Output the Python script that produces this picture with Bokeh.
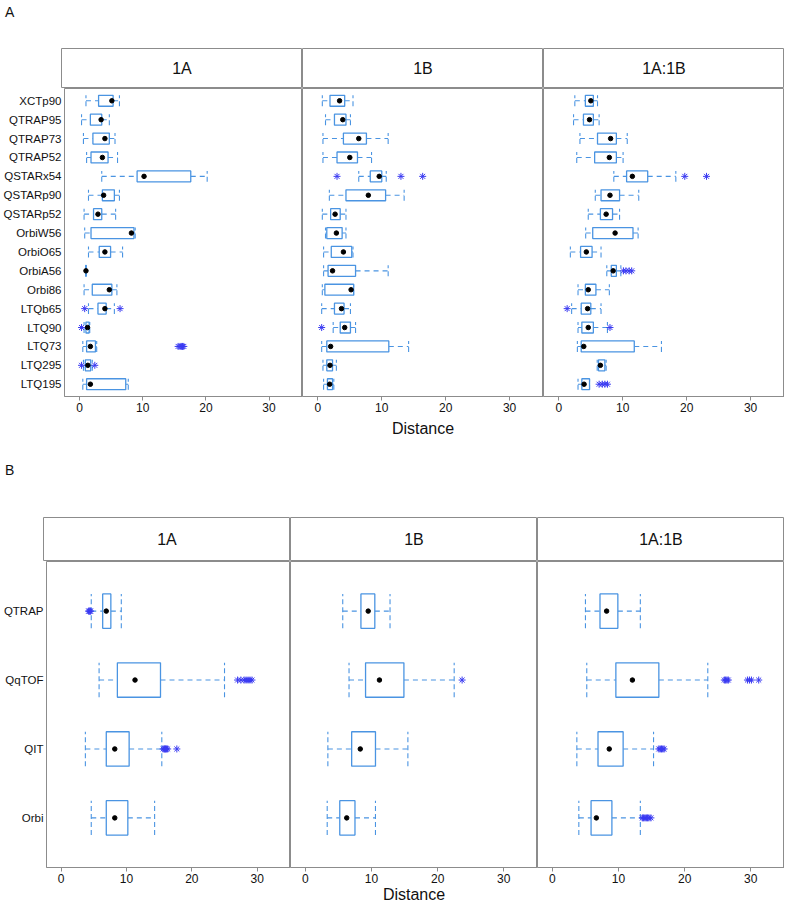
from bokeh.plotting import figure
from bokeh.models import ColumnDataSource, FactorRange, Range1d, FixedTicker, Div
from bokeh.layouts import column, row
from bokeh.transform import dodge
from bokeh.core.properties import value
from bokeh.embed import file_html
from bokeh.resources import INLINE

# ---------------- data ----------------
FACETS = ["1A", "1B", "1A:1B"]
X_TICKS = [0, 10, 20, 30]

A_CATS = ["XCTp90", "QTRAP95", "QTRAP73", "QTRAP52", "QSTARx54", "QSTARp90",
          "QSTARp52", "OrbiW56", "OrbiO65", "OrbiA56", "Orbi86", "LTQb65",
          "LTQ90", "LTQ73", "LTQ295", "LTQ195"]

# facet 1A
A1_LOW = [1.0, 0.3, 0.6, 1.1, 3.5, 1.4, 0.7, 0.8, 1.4, 0.95, 0.7, 1.4, 0.7, 0.5, 0.6, 0.5]
A1_Q1 = [3.0, 1.7, 2.1, 1.8, 9.1, 3.6, 2.2, 1.8, 3.1, 0.97, 2.0, 2.9, 1.0, 1.1, 0.9, 1.1]
A1_MED = [5.1, 3.4, 4.0, 3.6, 10.2, 3.8, 2.9, 8.2, 4.0, 1.0, 4.7, 4.0, 1.25, 1.7, 1.3, 1.7]
A1_Q3 = [5.3, 3.5, 4.7, 4.5, 17.6, 5.5, 3.5, 8.6, 4.9, 1.03, 5.1, 4.2, 1.5, 2.5, 1.75, 7.3]
A1_HIGH = [6.3, 4.7, 5.6, 6.0, 20.2, 6.3, 5.7, 8.8, 6.8, 1.05, 5.9, 5.5, 1.6, 2.7, 2.0, 7.7]
A1_OUT_CAT = ["LTQb65", "LTQb65", "LTQ90", "LTQ73", "LTQ73", "LTQ73", "LTQ73", "LTQ73",
              "LTQ295", "LTQ295"]
A1_OUT_VAL = [0.8, 6.4, 0.3, 15.6, 15.9, 16.1, 16.3, 16.5, 0.3, 2.4]

# facet 1B
A2_LOW = [0.7, 1.2, 0.8, 0.8, 6.4, 1.8, 0.7, 1.2, 0.9, 0.9, 0.7, 0.6, 2.4, 0.6, 0.8, 0.9]
A2_Q1 = [1.9, 2.6, 4.0, 3.0, 8.2, 4.4, 2.0, 1.4, 2.1, 1.6, 1.1, 2.6, 3.5, 1.4, 1.4, 1.5]
A2_MED = [3.4, 3.9, 6.4, 5.0, 9.6, 7.9, 2.7, 2.9, 4.0, 2.3, 5.2, 3.7, 4.2, 2.0, 1.9, 1.85]
A2_Q3 = [4.2, 4.4, 7.6, 6.2, 10.0, 10.6, 3.5, 3.8, 5.3, 5.9, 5.6, 4.1, 5.1, 11.1, 2.3, 2.3]
A2_HIGH = [5.5, 5.1, 11.0, 8.4, 10.7, 13.5, 4.4, 4.4, 5.5, 11.0, 5.6, 5.1, 5.9, 14.2, 2.9, 2.5]
A2_OUT_CAT = ["QSTARx54", "QSTARx54", "QSTARx54", "LTQ90"]
A2_OUT_VAL = [3.0, 13.0, 16.4, 0.6]

# facet 1A:1B
A3_LOW = [2.5, 2.3, 3.3, 2.8, 8.6, 5.7, 4.6, 4.2, 1.8, 7.5, 3.0, 2.0, 3.0, 2.9, 6.0, 3.0]
A3_Q1 = [4.15, 3.85, 6.05, 5.6, 10.6, 6.6, 6.5, 5.3, 3.4, 8.2, 4.15, 3.5, 3.6, 3.5, 6.2, 3.6]
A3_MED = [5.0, 4.8, 8.1, 7.9, 11.5, 8.0, 7.4, 8.8, 4.3, 8.5, 4.6, 4.5, 4.6, 3.9, 6.5, 3.95]
A3_Q3 = [5.4, 5.4, 9.0, 9.0, 13.9, 9.5, 8.4, 11.6, 5.2, 9.0, 5.8, 5.0, 5.4, 11.8, 7.2, 4.8]
A3_HIGH = [6.05, 6.3, 10.7, 10.05, 18.3, 12.5, 9.5, 12.4, 6.6, 9.7, 7.9, 6.6, 7.6, 16.05, 7.4, 4.8]
A3_OUT_CAT = ["QSTARx54", "QSTARx54", "OrbiA56", "OrbiA56", "OrbiA56", "OrbiA56",
              "LTQb65", "LTQ90", "LTQ195", "LTQ195", "LTQ195", "LTQ195"]
A3_OUT_VAL = [19.7, 23.1, 10.1, 10.5, 11.0, 11.4, 1.3, 8.0, 6.3, 6.8, 7.2, 7.6]

B_CATS = ["QTRAP", "QqTOF", "QIT", "Orbi"]

B1_LOW = [4.6, 5.8, 3.7, 4.6]
B1_Q1 = [6.35, 8.6, 6.9, 6.9]
B1_MED = [6.9, 11.3, 8.2, 8.2]
B1_Q3 = [7.6, 15.2, 10.4, 10.2]
B1_HIGH = [9.2, 25.0, 15.4, 14.3]
B1_OUT_CAT = ["QTRAP"] * 4 + ["QqTOF"] * 7 + ["QIT"] * 7
B1_OUT_VAL = [4.2, 4.3, 4.4, 4.5,
              27.0, 27.5, 28.0, 28.3, 28.6, 28.9, 29.2,
              15.6, 15.8, 15.9, 16.0, 16.1, 16.3, 17.7]

B2_LOW = [5.65, 6.6, 3.4, 3.3]
B2_Q1 = [8.4, 9.1, 7.0, 5.2]
B2_MED = [9.5, 11.2, 8.3, 6.25]
B2_Q3 = [10.5, 14.9, 10.6, 7.5]
B2_HIGH = [12.8, 22.5, 15.5, 10.6]
B2_OUT_CAT = ["QqTOF"]
B2_OUT_VAL = [23.7]

B3_LOW = [5.0, 5.2, 3.7, 4.0]
B3_Q1 = [7.2, 9.6, 6.9, 5.85]
B3_MED = [8.2, 12.1, 8.6, 6.65]
B3_Q3 = [9.9, 16.1, 10.7, 9.0]
B3_HIGH = [13.3, 23.5, 15.3, 13.3]
B3_OUT_CAT = ["QqTOF"] * 8 + ["QIT"] * 5 + ["Orbi"] * 7
B3_OUT_VAL = [26.0, 26.2, 26.4, 26.6, 29.5, 29.8, 30.1, 31.2,
              16.1, 16.3, 16.5, 16.7, 16.9,
              13.6, 13.8, 14.0, 14.2, 14.4, 14.6, 14.9]

# ---------------- style ----------------
FONT = "Liberation Sans"
BOX_COLOR = "#4a94e2"
OUT_COLOR = "#3a3af2"
FRAME_COLOR = "#8c8c8c"
TEXT_COLOR = "#111111"


def strip(label, width, height, left):
    p = figure(width=width, height=height, x_range=FactorRange(factors=[label]),
               y_range=Range1d(-1, 1), x_axis_location=None, y_axis_location=None,
               min_border=0, min_border_left=left, min_border_right=0,
               min_border_top=0, min_border_bottom=0,
               output_backend="svg", toolbar_location=None)
    p.outline_line_color = FRAME_COLOR
    p.grid.visible = False
    p.text(x=[label], y=[0], text=[label], text_align="center", text_baseline="middle",
           text_font=value(FONT), text_font_size="16px", text_color=TEXT_COLOR)
    return p


def facet(cats, low, q1, med, q3, high, out_cat, out_val, xr, width, height, left,
          bottom, show_y, box_h, pad, xlabel, xlabel_standoff):
    p = figure(width=width, height=height, x_range=Range1d(*xr),
               y_range=FactorRange(factors=list(reversed(cats)), range_padding=pad,
                                   range_padding_units="absolute"),
               y_axis_location="left" if show_y else None,
               min_border=0, min_border_left=left, min_border_right=0,
               min_border_top=0, min_border_bottom=bottom,
               output_backend="svg", toolbar_location=None)
    p.outline_line_color = FRAME_COLOR
    p.grid.visible = False
    p.background_fill_color = "white"

    xa = p.xaxis[0]
    xa.ticker = FixedTicker(ticks=X_TICKS)
    xa.axis_line_color = FRAME_COLOR
    xa.major_tick_line_color = FRAME_COLOR
    xa.major_tick_out = 4
    xa.major_tick_in = 0
    xa.minor_tick_line_color = None
    xa.major_label_text_font = FONT
    xa.major_label_text_font_size = "12px"
    xa.major_label_text_color = TEXT_COLOR
    xa.major_label_standoff = 2
    if xlabel:
        xa.axis_label = xlabel
        xa.axis_label_text_font = FONT
        xa.axis_label_text_font_size = "16px"
        xa.axis_label_text_font_style = "normal"
        xa.axis_label_text_color = TEXT_COLOR
        xa.axis_label_standoff = xlabel_standoff

    if show_y:
        ya = p.yaxis[0]
        ya.axis_line_color = None
        ya.major_tick_line_color = None
        ya.major_tick_out = 0
        ya.major_tick_in = 0
        ya.minor_tick_line_color = None
        ya.major_label_text_font = FONT
        ya.major_label_text_font_size = "11.5px"
        ya.major_label_text_color = TEXT_COLOR
        ya.major_label_standoff = 3

    src = ColumnDataSource(dict(cat=cats, low=low, q1=q1, med=med, q3=q3, high=high))
    yr = p.y_range
    p.segment(x0="low", y0="cat", x1="q1", y1="cat", source=src,
              line_color=BOX_COLOR, line_dash="5 4", line_width=1.1)
    p.segment(x0="q3", y0="cat", x1="high", y1="cat", source=src,
              line_color=BOX_COLOR, line_dash="5 4", line_width=1.1)
    for key in ("low", "high"):
        p.segment(x0=key, y0=dodge("cat", -box_h / 2, range=yr),
                  x1=key, y1=dodge("cat", box_h / 2, range=yr), source=src,
                  line_color=BOX_COLOR, line_dash="5 3", line_width=1.1)
    p.hbar(y="cat", left="q1", right="q3", height=box_h, source=src,
           fill_color="white", line_color=BOX_COLOR, line_width=1.3)
    p.scatter(x="med", y="cat", source=src, size=4.5, marker="circle",
              fill_color="black", line_color="black")
    osrc = ColumnDataSource(dict(cat=out_cat, val=out_val))
    p.scatter(x="val", y="cat", source=osrc, marker="asterisk", size=7,
              line_color=OUT_COLOR, line_width=1)
    return p


def label_div(txt, height, pad_top):
    return Div(text=txt, width=784, height=height,
               styles={"font-family": FONT, "font-size": "14px", "color": TEXT_COLOR,
                       "padding-top": f"{pad_top}px", "line-height": "14px"})


# ---------------- panel A ----------------
A_LEFT, A_W = 61, 241
A_PLOT_H, A_BOTTOM = 354, 46
A_XR = (-2.4, 35.3)
a_data = [
    (A1_LOW, A1_Q1, A1_MED, A1_Q3, A1_HIGH, A1_OUT_CAT, A1_OUT_VAL),
    (A2_LOW, A2_Q1, A2_MED, A2_Q3, A2_HIGH, A2_OUT_CAT, A2_OUT_VAL),
    (A3_LOW, A3_Q1, A3_MED, A3_Q3, A3_HIGH, A3_OUT_CAT, A3_OUT_VAL),
]
a_strips, a_plots = [], []
for i, name in enumerate(FACETS):
    left = A_LEFT if i == 0 else 0
    a_strips.append(strip(name, A_W + left, 40, left))
    d = a_data[i]
    a_plots.append(facet(A_CATS, *d, A_XR, A_W + left, A_PLOT_H, left, A_BOTTOM,
                         i == 0, 0.58, 0.15, "Distance" if i == 1 else None, 5))

# ---------------- panel B ----------------
B_LEFT, B_W = 43, 247
B_PLOT_H, B_BOTTOM = 345, 39
B_XR = (-2.25, 35.1)
b_data = [
    (B1_LOW, B1_Q1, B1_MED, B1_Q3, B1_HIGH, B1_OUT_CAT, B1_OUT_VAL),
    (B2_LOW, B2_Q1, B2_MED, B2_Q3, B2_HIGH, B2_OUT_CAT, B2_OUT_VAL),
    (B3_LOW, B3_Q1, B3_MED, B3_Q3, B3_HIGH, B3_OUT_CAT, B3_OUT_VAL),
]
b_strips, b_plots = [], []
for i, name in enumerate(FACETS):
    left = B_LEFT if i == 0 else 0
    b_strips.append(strip(name, B_W + left, 44, left))
    d = b_data[i]
    b_plots.append(facet(B_CATS, *d, B_XR, B_W + left, B_PLOT_H, left, B_BOTTOM,
                         i == 0, 0.5, 0.22, "Distance" if i == 1 else None, 0))

layout = column(
    label_div("A", 38, 0),
    row(*a_strips),
    row(*a_plots),
    label_div("B", 65, 16),
    row(*b_strips),
    row(*b_plots),
)

with open("out.html", "w") as f:
    f.write(file_html(layout, INLINE))
